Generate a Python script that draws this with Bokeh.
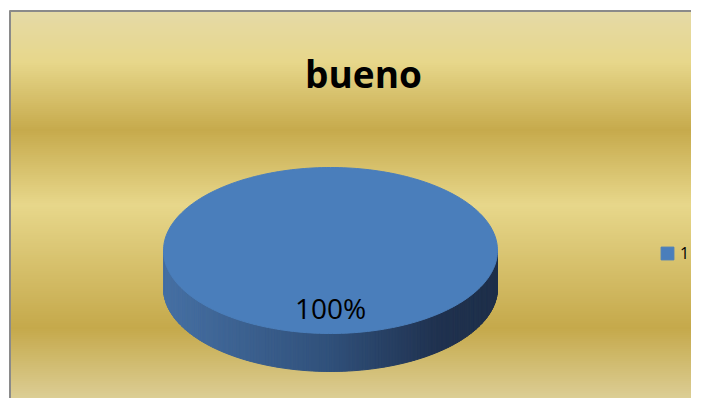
import numpy as np
from bokeh.plotting import figure
from bokeh.models import Range1d, Legend, LegendItem
from bokeh.core.properties import value
from bokeh.embed import file_html
from bokeh.resources import INLINE

# ---- data ----
chart_title = "bueno"
categories = ["1"]
values = [100]
slice_colors = ["#4A7EBB"]

# ---- layout ----
W, H = 691, 398
p = figure(width=W, height=H, output_backend="svg", toolbar_location=None,
           x_range=Range1d(0, W), y_range=Range1d(H, 0), min_border=0,
           x_axis_type=None, y_axis_type=None)
p.grid.visible = False
p.outline_line_color = None
p.background_fill_color = "white"
p.border_fill_color = "white"


def hex2rgb(h):
    h = h.lstrip("#")
    return np.array([int(h[i:i + 2], 16) for i in (0, 2, 4)], dtype=float)


def rgb2hex(c):
    return "#%02x%02x%02x" % tuple(int(round(v)) for v in c)


def interp_color(pos, stops):
    ps = [s[0] for s in stops]
    cs = np.array([hex2rgb(s[1]) for s in stops])
    return rgb2hex([np.interp(pos, ps, cs[:, k]) for k in range(3)])


# background gradient (y -> colour)
bg_stops = [(10, "#E5DAA7"), (62, "#E7D78B"), (130, "#C6AA4C"),
            (205, "#E7D78B"), (328, "#C5A94B"), (414, "#E1D6A5")]
ys = np.arange(11, H + 2, 2)
p.quad(left=10, right=W, top=ys[:-1], bottom=ys[1:] + 0.5,
       color=[interp_color(y + 1, bg_stops) for y in ys[:-1]])

# frame border (left and top only visible in reference)
p.line(x=[9.5, 9.5], y=[10, H], line_color="#8a8a8a", line_width=2)
p.line(x=[9, W], y=[10.5, 10.5], line_color="#8a8a8a", line_width=2)

# ---- 3D pie ----
cx, cy, rx, ry, depth = 330, 250, 167, 83, 38
total = float(sum(values))
fracs = [v / total for v in values]
starts = np.concatenate([[0.0], np.cumsum(fracs)[:-1]]) * 2 * np.pi
ends = np.cumsum(fracs) * 2 * np.pi

side_stops = [(-1.0, "#4670A4"), (0.0, "#30507A"), (0.65, "#1F314F"), (1.0, "#1E2F4A")]

# side walls (front half: t in [pi/2, 3pi/2])
side_xs, side_ys, side_cols = [], [], []
for a0, a1 in zip(starts, ends):
    lo, hi = max(a0, np.pi / 2), min(a1, 3 * np.pi / 2)
    if hi <= lo:
        continue
    ts = np.linspace(lo, hi, 160)
    for t0, t1 in zip(ts[:-1], ts[1:]):
        x0, x1 = cx + rx * np.sin(t0), cx + rx * np.sin(t1)
        y0, y1 = cy - ry * np.cos(t0), cy - ry * np.cos(t1)
        side_xs.append([x0, x1, x1, x0])
        side_ys.append([y0, y1, y1 + depth, y0 + depth])
        xm = (x0 + x1) / 2
        side_cols.append(interp_color((xm - cx) / rx, side_stops))
p.patches(xs=side_xs, ys=side_ys, fill_color=side_cols, line_color=side_cols, line_width=1)

# top faces
top_renderers = []
for a0, a1, col in zip(starts, ends, slice_colors):
    ts = np.linspace(a0, a1, 240)
    xs = list(cx + rx * np.sin(ts))
    yv = list(cy - ry * np.cos(ts))
    if a1 - a0 < 2 * np.pi - 1e-9:
        xs = [cx] + xs
        yv = [cy] + yv
    r = p.patch(x=xs, y=yv, fill_color=col, line_color=col, line_width=1)
    top_renderers.append(r)

# percentage labels
labels = ["%d%%" % round(f * 100) for f in fracs]
p.text(x=[cx], y=[cy + 57], text=labels, text_align="center", text_baseline="alphabetic",
       text_font=value("Open Sans"), text_font_size="28px", text_color="black")

# title
p.text(x=[363], y=[73], text=[chart_title], text_align="center", text_baseline="alphabetic",
       text_font=value("Open Sans"), text_font_size="37px", text_font_style="bold",
       text_color="black")

# legend
legend = Legend(items=[LegendItem(label=c, renderers=[r]) for c, r in zip(categories, top_renderers)],
                location=(659, H - 264), padding=0, margin=0, spacing=0,
                glyph_width=16, glyph_height=16, label_height=16, label_standoff=5,
                label_text_font="Open Sans", label_text_font_size="16px",
                label_text_color="black", background_fill_alpha=0,
                border_line_color=None)
p.add_layout(legend)

open("out.html", "w").write(file_html(p, INLINE))
